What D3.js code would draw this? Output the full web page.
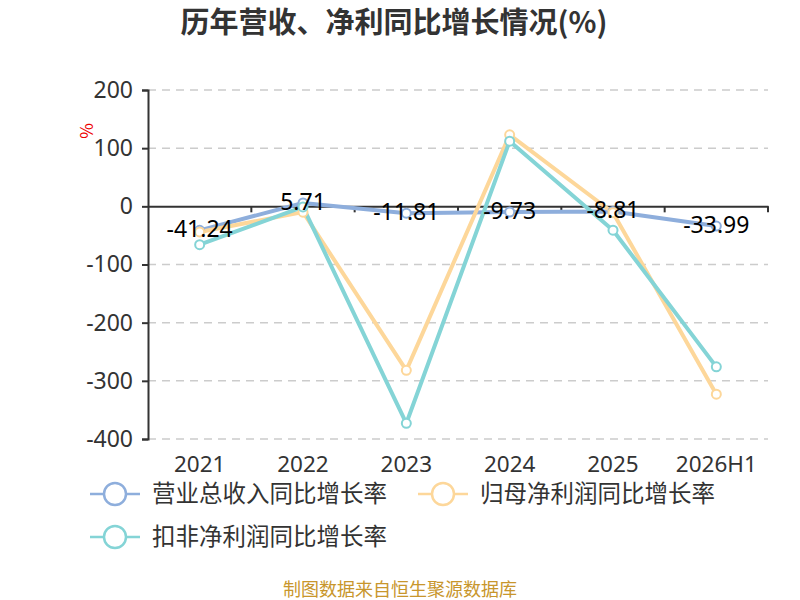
<!DOCTYPE html>
<html>
<head>
<meta charset="utf-8">
<script src="https://cdn.jsdelivr.net/npm/d3@7"></script>
<style>
  body { margin: 0; background: #fff; }
  text { font-family: "Noto Sans CJK SC", "Noto Sans", sans-serif; }
</style>
</head>
<body>
<div id="chart"></div>
<script>
// data
var categories = ["2021", "2022", "2023", "2024", "2025", "2026H1"];
var revenueGrowth = [-41.24, 5.71, -11.81, -9.73, -8.81, -33.99];
var netProfitGrowth = [-44, -10, -282, 123, -11, -323];
var deductedGrowth = [-66, -1, -373, 112, -41, -276];
var yTicks = [200, 100, 0, -100, -200, -300, -400];
var seriesNames = ["营业总收入同比增长率", "归母净利润同比增长率", "扣非净利润同比增长率"];
var colors = ["#8eaedc", "#fdd79a", "#84d4d6"];

var W = 800, H = 600;
var margin = {top: 90, right: 32, bottom: 161, left: 148};
var width = W - margin.left - margin.right,
    height = H - margin.top - margin.bottom;

var svg = d3.select("#chart")
  .append("svg")
    .attr("width", W)
    .attr("height", H);

// title
svg.append("text")
  .attr("x", 394)
  .attr("y", 33)
  .attr("text-anchor", "middle")
  .attr("font-size", 29)
  .attr("font-weight", "bold")
  .attr("fill", "#333")
  .text("历年营收、净利同比增长情况(%)");

var g = svg.append("g")
  .attr("transform", "translate(" + margin.left + "," + margin.top + ")");

var x = d3.scaleBand()
  .domain(categories)
  .range([0, width]);

var y = d3.scaleLinear()
  .domain([-400, 200])
  .range([height, 0]);

// dashed grid lines
g.append("g")
  .selectAll("line")
  .data(yTicks.filter(d => d != 0))
  .enter()
  .append("line")
    .attr("x1", 0)
    .attr("x2", width)
    .attr("y1", d => y(d))
    .attr("y2", d => y(d))
    .attr("stroke", "#ccc")
    .attr("stroke-width", 1.5)
    .attr("stroke-dasharray", "8,6");

// y axis
var yAxis = g.append("g")
  .call(d3.axisLeft(y).tickValues(yTicks).tickFormat(d => String(d)).tickSize(6).tickPadding(9));
yAxis.select(".domain").attr("stroke", "#333").attr("stroke-width", 2);
yAxis.selectAll(".tick line").attr("stroke", "#333").attr("stroke-width", 2);
yAxis.selectAll(".tick text")
  .attr("font-size", 23)
  .attr("fill", "#333")
  .style("font-family", "'Noto Sans', sans-serif");

// x axis on zero
var xAxis = g.append("g")
  .attr("transform", "translate(0," + y(0) + ")")
  .call(d3.axisBottom(x).tickSizeInner(0).tickSizeOuter(0).tickFormat(""));
xAxis.select(".domain").attr("stroke", "#333").attr("stroke-width", 2);
xAxis.selectAll(".tick").remove();

// boundary ticks
var bounds = categories.map(c => x(c)).concat([width]).slice(1);
xAxis.selectAll(".bnd")
  .data(bounds)
  .enter()
  .append("line")
    .attr("class", "bnd")
    .attr("x1", d => d)
    .attr("x2", d => d)
    .attr("y1", 0)
    .attr("y2", 6)
    .attr("stroke", "#333")
    .attr("stroke-width", 2);

// x labels at bottom
g.append("g")
  .selectAll("text")
  .data(categories)
  .enter()
  .append("text")
    .attr("x", d => x(d) + x.bandwidth() / 2)
    .attr("y", height + 33)
    .attr("text-anchor", "middle")
    .attr("font-size", 22.5)
    .attr("fill", "#333")
    .style("font-family", "'Noto Sans', sans-serif")
    .text(d => d);

// unit label
svg.append("text")
  .attr("transform", "translate(93,131) rotate(-90)")
  .attr("text-anchor", "middle")
  .attr("font-size", 17)
  .attr("fill", "#e00")
  .text("%");

var allSeries = [revenueGrowth, netProfitGrowth, deductedGrowth];
var line = d3.line()
  .x((d, i) => x(categories[i]) + x.bandwidth() / 2)
  .y(d => y(d));

// draw lines
var drawOrder = [0, 1, 2];
drawOrder.forEach(function(k) {
  g.append("path")
    .datum(allSeries[k])
    .attr("fill", "none")
    .attr("stroke", colors[k])
    .attr("stroke-width", 4)
    .attr("stroke-linejoin", "round")
    .attr("d", line);
});
drawOrder.forEach(function(k) {
  g.append("g")
    .selectAll("circle")
    .data(allSeries[k])
    .enter()
    .append("circle")
      .attr("cx", (d, i) => x(categories[i]) + x.bandwidth() / 2)
      .attr("cy", d => y(d))
      .attr("r", 4.5)
      .attr("fill", "#fff")
      .attr("stroke", colors[k])
      .attr("stroke-width", 2);
});

// value labels for revenue series
g.append("g")
  .selectAll("text")
  .data(revenueGrowth)
  .enter()
  .append("text")
    .attr("x", (d, i) => x(categories[i]) + x.bandwidth() / 2)
    .attr("y", d => y(d) + 7)
    .attr("text-anchor", "middle")
    .attr("font-size", 23)
    .attr("fill", "#000")
    .style("font-family", "'Noto Sans', sans-serif")
    .text(d => d.toFixed(2));

// legend
var legendPos = [{x: 90, y: 494}, {x: 418, y: 494}, {x: 90, y: 537}];
seriesNames.forEach(function(name, k) {
  var lg = svg.append("g")
    .attr("transform", "translate(" + legendPos[k].x + "," + legendPos[k].y + ")");
  lg.append("line")
    .attr("x1", 0).attr("x2", 50)
    .attr("y1", 0).attr("y2", 0)
    .attr("stroke", colors[k])
    .attr("stroke-width", 2.5);
  lg.append("circle")
    .attr("cx", 25).attr("cy", 0).attr("r", 11)
    .attr("fill", "#fff")
    .attr("stroke", colors[k])
    .attr("stroke-width", 2.5);
  lg.append("text")
    .attr("x", 62)
    .attr("y", 8)
    .attr("font-size", 23.5)
    .attr("fill", "#333")
    .text(name);
});

// footer
svg.append("text")
  .attr("x", 400)
  .attr("y", 596)
  .attr("text-anchor", "middle")
  .attr("font-size", 18)
  .attr("fill", "#c8962c")
  .text("制图数据来自恒生聚源数据库");
</script>
</body>
</html>
